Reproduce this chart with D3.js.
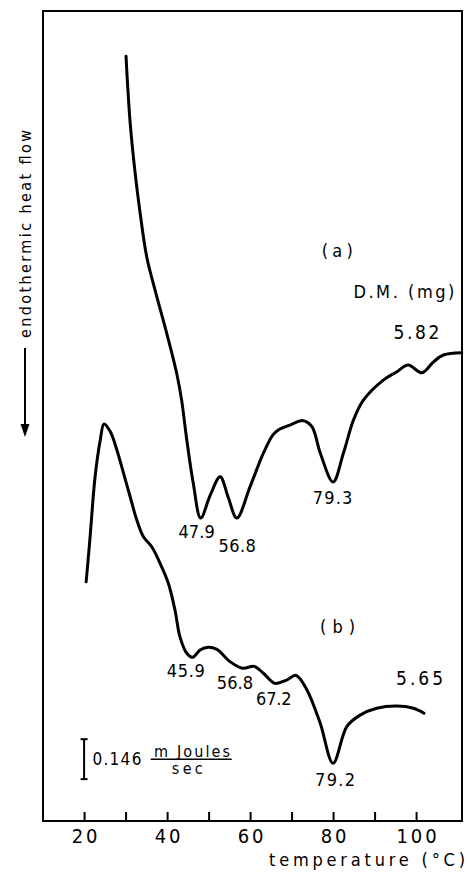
<!DOCTYPE html>
<html>
<head>
<meta charset="utf-8">
<script src="https://cdn.jsdelivr.net/npm/d3@7"></script>
<style>
  html, body { margin: 0; padding: 0; background: #fff; }
  svg { display: block; }
  text { font-family: 'DejaVu Sans Condensed', 'DejaVu Sans', sans-serif; font-stretch: condensed; fill: #000; }
</style>
</head>
<body>
<svg id="chart" width="467" height="873"></svg>
<script>
// ---- data (temperature °C, heat-flow signal in mJ/s, arbitrary zero) ----
const curveA_T = [30.1, 31.1, 32.3, 33.5, 35.1, 37.1, 39.9, 42.3, 43.5, 44.75, 46.3, 48.1, 50.4, 52.8, 54.7, 56.8, 60.0, 63.2, 65.5, 66.8, 69.6, 72.8, 74.9, 76.9, 80.0, 82.5, 84.9, 87.3, 92.1, 95.3, 98.1, 101.4, 104.2, 106.6, 111.0];
const curveA_V = [2.795, 2.551, 2.368, 2.222, 2.061, 1.940, 1.783, 1.637, 1.538, 1.392, 1.235, 1.107, 1.191, 1.258, 1.184, 1.107, 1.222, 1.344, 1.411, 1.429, 1.447, 1.463, 1.441, 1.345, 1.239, 1.345, 1.465, 1.538, 1.611, 1.641, 1.666, 1.638, 1.678, 1.703, 1.711];

const curveB_T = [20.5, 21.45, 22.65, 23.9, 24.8, 26.3, 27.9, 29.5, 31.1, 32.7, 34.3, 36.3, 38.3, 40.3, 41.9, 43.1, 44.75, 46.2, 47.95, 49.95, 52.0, 55.2, 58.2, 61.0, 63.2, 66.0, 68.8, 71.1, 73.7, 76.9, 80.0, 83.3, 86.5, 90.5, 95.3, 99.35, 101.9];
const curveB_V = [0.874, 1.039, 1.258, 1.392, 1.451, 1.423, 1.356, 1.271, 1.185, 1.100, 1.039, 1.002, 0.942, 0.869, 0.771, 0.673, 0.613, 0.598, 0.625, 0.635, 0.627, 0.582, 0.558, 0.565, 0.540, 0.503, 0.515, 0.532, 0.479, 0.357, 0.211, 0.345, 0.387, 0.412, 0.420, 0.412, 0.394];

const xTicks = [20, 30, 40, 50, 60, 70, 80, 90, 100];
const xTickLabels = ["20", "", "40", "", "60", "", "80", "", "100"];

// annotation labels: text, T, signal, width(px), font size
const labelText = ["(a)", "D.M. (mg)", "5.82", "47.9", "56.8", "79.3", "(b)", "45.9", "56.8", "67.2", "5.65", "79.2"];
const labelT    = [77.28, 84.89, 94.53, 42.72, 52.36, 75.11, 76.87, 39.93, 51.95, 61.45, 95.18, 75.66];
const labelV    = [2.062, 1.910, 1.761, 1.033, 0.984, 1.158, 0.686, 0.527, 0.481, 0.424, 0.497, 0.128];
const labelW    = [31, 101, 46, 36.5, 37.5, 39.5, 35, 38, 36.5, 35.5, 47, 40];
const labelSize = [18, 18, 19, 18, 18, 18, 18, 18, 18, 18, 19, 18];

// scale bar: 0.146 mJ/s
const scaleBarValue = 0.146;
const scaleBarT = 20;
const scaleBarBottom = 0.153;

// ---- drawing ----
const svg = d3.select("#chart");
const frame = {left: 43, right: 462, top: 11, bottom: 821};

const x = d3.scaleLinear().domain([10.1, 111.06]).range([frame.left, frame.right]);
const y = d3.scaleLinear().domain([0, 2.96]).range([frame.bottom, frame.top]);

// frame
svg.append("rect")
  .attr("x", frame.left).attr("y", frame.top)
  .attr("width", frame.right - frame.left).attr("height", frame.bottom - frame.top)
  .attr("fill", "none").attr("stroke", "#000").attr("stroke-width", 2);

// x axis with inward ticks
const axis = d3.axisBottom(x)
  .tickValues(xTicks)
  .tickSizeInner(-9).tickSizeOuter(0)
  .tickFormat((d, i) => xTickLabels[i]);
const gx = svg.append("g").attr("transform", `translate(0,${frame.bottom})`).call(axis);
gx.select(".domain").remove();
gx.selectAll(".tick line").attr("stroke", "#000").attr("stroke-width", 2);
gx.attr("font-family", null).attr("font-size", null);
gx.selectAll(".tick text")
  .attr("y", 22).attr("dy", 0)
  .attr("font-size", 20)
  .attr("letter-spacing", 3)
  .attr("dx", 1.5)
  .style("fill", "#000");

// axis title
svg.append("text")
  .attr("x", 269).attr("y", 866)
  .attr("font-size", 18)
  .attr("textLength", 196).attr("lengthAdjust", "spacing")
  .text("temperature (°C)");

// y label (rotated) with arrow
svg.append("text")
  .attr("transform", "translate(31,338) rotate(-90)")
  .attr("font-size", 16)
  .attr("textLength", 208).attr("lengthAdjust", "spacing")
  .text("endothermic heat flow");
svg.append("line")
  .attr("x1", 25).attr("x2", 25).attr("y1", 348).attr("y2", 428)
  .attr("stroke", "#000").attr("stroke-width", 2);
svg.append("path")
  .attr("d", "M20.5,424 L29.5,424 L25,437 Z")
  .attr("fill", "#000");

// curves
const line = d3.line()
  .x(d => x(d[0])).y(d => y(d[1]))
  .curve(d3.curveCatmullRom.alpha(0.5));

[[curveA_T, curveA_V], [curveB_T, curveB_V]].forEach(([ts, vs]) => {
  svg.append("path")
    .datum(ts.map((t, i) => [t, vs[i]]))
    .attr("d", line)
    .attr("fill", "none").attr("stroke", "#000").attr("stroke-width", 3)
    .attr("stroke-linejoin", "round").attr("stroke-linecap", "round");
});

// annotations
svg.append("g").selectAll("text")
  .data(labelText.map((t, i) => ({t, T: labelT[i], v: labelV[i], w: labelW[i], s: labelSize[i]})))
  .join("text")
  .attr("x", d => x(d.T)).attr("y", d => y(d.v))
  .attr("font-size", d => d.s)
  .attr("textLength", d => d.w).attr("lengthAdjust", "spacing")
  .text(d => d.t);

// scale bar
const sbx = x(scaleBarT);
const sbTop = y(scaleBarBottom + scaleBarValue), sbBot = y(scaleBarBottom);
const sb = svg.append("g").attr("stroke", "#000").attr("stroke-width", 2);
sb.append("line").attr("x1", sbx).attr("x2", sbx).attr("y1", sbTop).attr("y2", sbBot);
sb.append("line").attr("x1", sbx - 3.5).attr("x2", sbx + 3.5).attr("y1", sbTop).attr("y2", sbTop);
sb.append("line").attr("x1", sbx - 3.5).attr("x2", sbx + 3.5).attr("y1", sbBot).attr("y2", sbBot);

svg.append("text")
  .attr("x", x(22.0)).attr("y", y(0.205))
  .attr("font-size", 17).attr("textLength", 49).attr("lengthAdjust", "spacing")
  .text(scaleBarValue.toFixed(3));
svg.append("text")
  .attr("x", x(36.87)).attr("y", y(0.235))
  .attr("font-size", 16).attr("textLength", 76).attr("lengthAdjust", "spacing")
  .text("m Joules");
svg.append("line")
  .attr("x1", x(36.07)).attr("x2", x(55.57)).attr("y1", y(0.2255)).attr("y2", y(0.2255))
  .attr("stroke", "#000").attr("stroke-width", 1.5);
svg.append("text")
  .attr("x", x(41.13)).attr("y", y(0.172))
  .attr("font-size", 16).attr("textLength", 31).attr("lengthAdjust", "spacing")
  .text("sec");
</script>
</body>
</html>
